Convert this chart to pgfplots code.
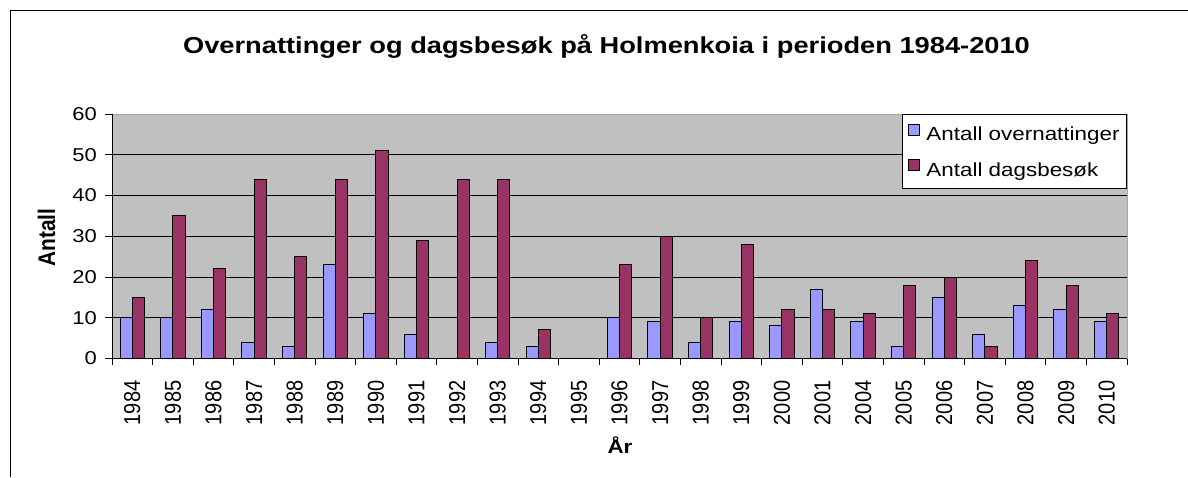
\documentclass[border=0pt]{standalone}
\usepackage{fontspec}
\setmainfont[FakeStretch=1.18]{Liberation Sans}
\newfontfamily\rotfont[FakeStretch=0.87]{Liberation Sans}
\usepackage{pgfplots}
\usepackage{pgfplotstable}
\pgfplotsset{compat=1.18}
\definecolor{ovblue}{HTML}{9999FF}
\definecolor{dagred}{HTML}{993366}
\definecolor{bggray}{HTML}{C0C0C0}
\pgfplotstableread{
x ov dag
0 10 15
1 10 35
2 12 22
3 4 44
4 3 25
5 23 44
6 11 51
7 6 29
8 0 44
9 4 44
10 3 7
11 0 0
12 10 23
13 9 30
14 4 10
15 9 28
16 8 12
17 17 12
18 9 11
19 3 18
20 15 20
21 6 3
22 13 24
23 12 18
24 9 11
}\data
\begin{document}
\begin{tikzpicture}[x=1pt,y=1pt]
\useasboundingbox (0,0) rectangle (1188,477);
\draw[line width=1pt] (10.5,0) -- (10.5,466.5) -- (1188,466.5);
\begin{axis}[
  at={(112pt,118.5pt)}, anchor=south west,
  scale only axis, width=1015pt, height=244.5pt,
  xmin=-0.5, xmax=24.5, ymin=0, ymax=60,
  ybar, bar width=0.3,
  axis background/.style={fill=bggray, draw=gray!70},
  axis x line*=bottom, axis y line*=left,
  axis line style={black, line width=1pt, -},
  xtick={0,...,24},
  xticklabels={1984,1985,1986,1987,1988,1989,1990,1991,1992,1993,1994,1995,1996,1997,1998,1999,2000,2001,2004,2005,2006,2007,2008,2009,2010},
  every major x tick/.append style={draw=none},
  minor xtick={-0.5,0.5,...,24.5},
  every minor x tick/.append style={black, line width=0.8pt},
  minor tick length=6pt,
  ytick={0,10,...,60},
  major tick length=7pt,
  tick align=outside,
  every major y tick/.append style={black, line width=0.8pt},
  extra y ticks={10,20,30,40,50},
  extra y tick labels={},
  extra y tick style={grid=major, major tick length=0pt, major grid style={black, line width=0.8pt}},
  /pgf/number format/assume math mode=true,
  yticklabel style={font=\fontsize{18.6}{20}\selectfont, anchor=east, inner sep=0pt},
  yticklabel shift=8pt,
  xticklabel style={rotate=90, anchor=east, inner sep=0pt, font=\rotfont\fontsize{23}{24}\selectfont},
  xticklabel shift=15pt,
  legend style={at={(1,1)}, anchor=north east, draw=black, fill=white, line width=0.8pt,
    font=\fontsize{19}{20}\selectfont, inner xsep=6pt, inner ysep=10pt, row sep=16pt,
    nodes={inner sep=1pt}},
  legend cell align=left,
  legend image code/.code={\draw[#1, line width=0.9pt] (0pt,-1pt) rectangle (11pt,10pt); \path (16pt,0pt);},
]
\addplot[fill=ovblue, draw=black, line width=1pt, bar shift=-0.15] table[x=x,y=ov]{\data};
\addplot[fill=dagred, draw=black, line width=1pt, bar shift=0.15] table[x=x,y=dag]{\data};
\legend{Antall overnattinger, Antall dagsbesøk}
\end{axis}
\node[anchor=base, font=\bfseries\fontsize{23.1}{24}\selectfont] at (606.5,423.7) {Overnattinger og dagsbesøk på Holmenkoia i perioden 1984-2010};
\node[anchor=base, font=\bfseries\fontsize{19}{20}\selectfont] at (620,23.7) {År};
\node[rotate=90, anchor=base, font=\rotfont\bfseries\fontsize{24}{25}\selectfont] at (55,239.5) {Antall};
\end{tikzpicture}
\end{document}
